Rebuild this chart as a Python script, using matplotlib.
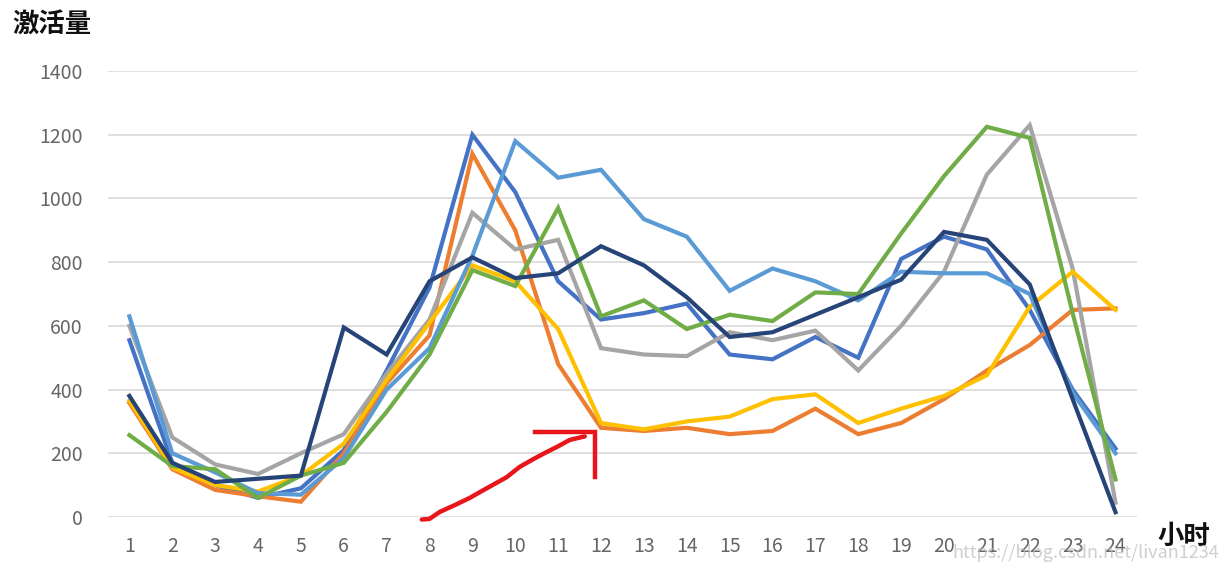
import matplotlib
matplotlib.use('Agg')
import matplotlib.pyplot as plt

plt.rcParams['font.family'] = ['Noto Sans CJK SC', 'DejaVu Sans']

# Data (hour 1..24).
hours = list(range(1, 25))
s_blue = [555, 170, 100, 60, 90, 210, 460, 720, 1200, 1020, 740, 620,
          640, 670, 510, 495, 565, 500, 810, 880, 840, 650, 400, 215]
s_orange = [358, 150, 85, 65, 48, 200, 420, 570, 1140, 900, 480, 280,
            270, 280, 260, 270, 340, 260, 295, 370, 460, 540, 650, 655]
s_gray = [600, 250, 165, 135, 200, 260, 450, 620, 955, 840, 870, 530,
          510, 505, 580, 555, 585, 460, 600, 770, 1075, 1230, 780, 45]
s_yellow = [365, 155, 100, 80, 130, 230, 430, 610, 790, 740, 590, 295,
            275, 300, 315, 370, 385, 295, 340, 380, 445, 660, 770, 650]
s_lightblue = [630, 200, 140, 75, 70, 185, 400, 530, 820, 1180, 1065, 1090,
               935, 880, 710, 780, 740, 680, 770, 765, 765, 700, 390, 200]
s_green = [257, 160, 150, 60, 130, 170, 330, 510, 775, 725, 970, 630,
           680, 590, 635, 615, 705, 700, 890, 1070, 1225, 1190, 640, 118]
s_navy = [380, 170, 110, 120, 130, 595, 510, 740, 815, 750, 765, 850,
          790, 690, 565, 580, 635, 690, 745, 895, 870, 730, 370, 15]

series = [s_blue, s_orange, s_gray, s_yellow, s_lightblue, s_green, s_navy]
colors = ['#4472C4', '#ED7D31', '#A5A5A5', '#FFC000', '#5B9BD5', '#70AD47', '#264478']

yticks = [0, 200, 400, 600, 800, 1000, 1200, 1400]

# Hand-drawn red arrow (data coords).
arrow_x = [7.82, 8.0, 8.24, 8.6, 8.94, 9.2, 9.52, 9.8, 10.1, 10.4, 10.69, 11.0, 11.27, 11.62]
arrow_y = [-8, -6, 16, 38, 60, 80, 104, 125, 157, 180, 201, 222, 242, 253]
corner_x = [10.46, 11.86, 11.86]
corner_y = [267, 267, 126]

fig = plt.figure(figsize=(12.31, 5.70), dpi=100)
ax = fig.add_axes([0.0877, 0.093, 0.8359, 0.7824])

for vals, c in zip(series, colors):
    ax.plot(hours, vals, color=c, lw=3.0, clip_on=False, solid_joinstyle='miter', zorder=3)

ax.plot(arrow_x, arrow_y, color='#E8151B', lw=3.2, clip_on=False, zorder=4,
        solid_capstyle='round')
ax.plot(corner_x, corner_y, color='#E8151B', lw=3.2, clip_on=False, zorder=4,
        solid_joinstyle='miter')

ax.set_xlim(0.5, 24.5)
ax.set_ylim(0, 1400)
ax.set_xticks(hours)
ax.set_xticklabels([str(h) for h in hours], fontsize=14, color='#666666')
ax.set_yticks(yticks)
ax.set_yticklabels([str(v) for v in yticks], fontsize=14, color='#666666')
ax.tick_params(length=0, pad=14)
ax.tick_params(axis='y', pad=18)
ax.grid(axis='y', color='#D9D9D9', lw=1.2)
ax.set_axisbelow(True)
for sp in ax.spines.values():
    sp.set_visible(False)

fig.text(0.01, 0.955, '激活量', fontsize=19, fontweight='bold', color='#111111',
         ha='left', va='center')
fig.text(0.94, 0.058, '小时', fontsize=19, fontweight='bold', color='#111111',
         ha='left', va='center')
fig.text(0.99, 0.03, 'https://blog.csdn.net/livan1234', fontsize=13, color='#BBBBBB',
         alpha=0.7, ha='right', va='center')

fig.savefig('out.png', dpi=100)
